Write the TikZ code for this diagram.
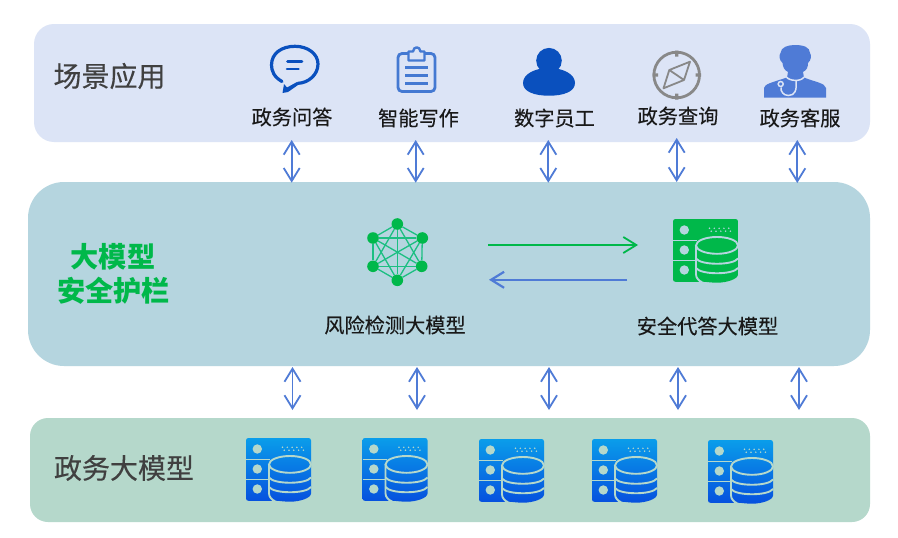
\documentclass[tikz,border=0pt]{standalone}
\usepackage{fontspec}
\setmainfont{Noto Sans CJK SC}
\newfontfamily\labfont[FakeBold=0.25]{Noto Sans CJK SC}
\usetikzlibrary{arrows.meta}
\definecolor{paneltop}{HTML}{DCE4F6}
\definecolor{panelmid}{HTML}{B5D5DF}
\definecolor{panelbot}{HTML}{B5D8CB}
\definecolor{arrowblue}{HTML}{4F7BD6}
\definecolor{guardgreen}{HTML}{00B84A}
\definecolor{netline}{HTML}{1CBF82}
\definecolor{deepblue}{HTML}{0A50BE}
\definecolor{clipblue}{HTML}{4479D2}
\definecolor{compassgray}{HTML}{888888}
\definecolor{srvtop}{HTML}{0A9DEA}
\definecolor{srvbot}{HTML}{0650DE}
\definecolor{darktext}{HTML}{404040}
\newcommand{\srvicon}[5]{%
\begin{scope}[shift={(#1,#2)}]
 \shade[top color=#3,bottom color=#4] (2.5,0) -- (62.5,0) .. controls (64,0) and (65,1) .. (65,2.5) -- (65,55.5)
   .. controls (65,60) and (54,63.7) .. (44,63.7) .. controls (36,63.7) and (29,62) .. (26,62.8) -- (2.5,62.8)
   .. controls (1,62.8) and (0,62) .. (0,60.5) -- (0,2.5) .. controls (0,1) and (1,0) .. (2.5,0) -- cycle;
 \draw[#5,line width=1.9pt] (0,21.5) -- (24,21.5) (0,41.5) -- (23,41.5);
 \fill[#5] (11.3,11) circle (4.7) (11.3,31) circle (4.7) (11.3,51) circle (4.7);
 \foreach \dx in {0,4.8,9.6,14.4,19.2}{\fill[#5] (36.5+\dx,9.3) circle (.85) (38.2+\dx,12.2) circle (.85);}
 \draw[#5,line width=1.9pt] (44,26.4) ellipse (21 and 8.4);
 \draw[#5,line width=1.9pt] (23,26.4) -- (23,55.4) .. controls (23,59) and (26,62) .. (29,63.2);
 \draw[#5,line width=1.9pt] (23,39.5) .. controls (28,46.5) and (60,46.5) .. (65,39.5);
 \draw[#5,line width=1.9pt] (23,49) .. controls (28,56) and (60,56) .. (65,49);
\end{scope}}
\tikzset{
 lab/.style={inner sep=0pt,font=\labfont\fontsize{20.2}{24}\selectfont,text=black!90},
 head/.style={inner sep=0pt,font=\labfont\fontsize{28}{32}\selectfont,text=darktext},
 guard/.style={inner sep=0pt,font=\bfseries\fontsize{28.2}{32}\selectfont,text=guardgreen},
 link/.style={arrowblue,line width=1.8pt,{Straight Barb[length=13pt,width=16pt]}-{Straight Barb[length=13pt,width=16pt]}},
 flowg/.style={guardgreen,line width=1.8pt,-{Straight Barb[length=13pt,width=16pt]}},
 flowb/.style={arrowblue,line width=2.2pt,-{Straight Barb[length=13pt,width=16pt]}},
 netnode/.style={circle,fill=guardgreen,minimum size=11.6pt,inner sep=0pt},
}
\begin{document}
\begin{tikzpicture}[x=1pt,y=-1pt]
\useasboundingbox (0,0) rectangle (898,538);
\fill[white] (0,0) rectangle (898,538);
% panels
\fill[paneltop,rounded corners=20pt] (34,24) rectangle (870,142);
\fill[panelmid,rounded corners=36pt] (28,182) rectangle (870,366);
\fill[panelbot,rounded corners=18pt] (30,418) rectangle (870,522);
% panel titles
\node[head] (tScene) at (109.5,76) {场景应用};
\node[guard] (tGuardA) at (113,257) {大模型};
\node[guard] (tGuardB) at (113.5,291) {安全护栏};
\node[head] (tGov) at (124,468) {政务大模型};
% top labels
\node[lab] (l1) at (292,117) {政务问答};
\node[lab] (l2) at (418.5,118) {智能写作};
\node[lab] (l3) at (554.5,118) {数字员工};
\node[lab] (l4) at (678,116) {政务查询};
\node[lab] (l5) at (800,118) {政务客服};
\node[lab] (l6) at (395,325) {风险检测大模型};
\node[lab] (l7) at (707.5,326) {安全代答大模型};
% network icon lines first
\node[netnode] (n1) at (397.3,224) {};
\node[netnode] (n2) at (422.3,238) {};
\node[netnode] (n3) at (421.7,266.3) {};
\node[netnode] (n4) at (397.3,280.3) {};
\node[netnode] (n5) at (373,266.3) {};
\node[netnode] (n6) at (373,238) {};
\foreach \a/\b in {n1/n2,n1/n3,n1/n4,n1/n5,n1/n6,n2/n3,n2/n4,n2/n5,n2/n6,n3/n4,n3/n5,n3/n6,n4/n5,n4/n6,n5/n6}
  \draw[netline,line width=1.3pt] (\a) -- (\b);
% chat icon
\draw[deepblue,line width=3.2pt,line cap=round] (282,81.5) .. controls (274,77) and (271.5,71) .. (271.5,65)
  .. controls (271.5,53) and (282,46.3) .. (295,46.3) .. controls (308,46.3) and (318,54) .. (318,64)
  .. controls (318,75) and (308,83) .. (298,83.3);
\fill[deepblue] (282.5,93) -- (284,84) -- (287,87.5) -- (297,82) -- (298,85) -- (288,92) -- cycle;
\draw[deepblue,line width=2.6pt,line cap=round] (287.5,61.7) -- (302,61.7) (287,69) -- (298.5,69);
% clipboard icon
\draw[clipblue,line width=2.8pt,rounded corners=4pt] (408,53.5) -- (398,53.5) -- (398,91.5) -- (435,91.5) -- (435,53.5) -- (425,53.5);
\draw[clipblue,line width=2.4pt,line join=round] (408.5,60.5) -- (408.5,51.5) -- (413,51.5) .. controls (413.5,46) and (420,46) .. (420.5,51.5) -- (424.5,51.5) -- (424.5,60.5) -- cycle;
\draw[clipblue,line width=2.6pt] (405,67.3) -- (428,67.3) (405,75.3) -- (428,75.3) (405,83.3) -- (428,83.3);
% person icon
\fill[deepblue] (549,60.7) circle (12.8);
\fill[deepblue] (523,83) .. controls (523,74) and (535,68) .. (549,68) .. controls (563,68) and (575,74) .. (575,83)
  .. controls (575,92) and (563,95.7) .. (549,95.7) .. controls (535,95.7) and (523,92) .. (523,83) -- cycle;
% compass icon
\draw[compassgray,line width=2.8pt] (676.7,75) circle (22.8);
\fill[compassgray] (675,50.5) rectangle (678.4,56.5) (675,93.5) rectangle (678.4,99.5)
  (652.5,73.3) rectangle (658,76.7) (695.5,73.3) rectangle (701,76.7);
\draw[compassgray,line width=1.8pt,line join=round] (690,61.7) -- (669.3,70) -- (663.5,88.3) -- (684,80) -- cycle (669.3,70) -- (684,80);
% doctor icon
\fill[arrowblue] (764,97.7) -- (764,88) .. controls (765,84) and (770,83) .. (787,77.5) -- (788,72)
  .. controls (784,70) and (783,67) .. (782.5,63) .. controls (779,60) and (779,55) .. (780.5,53)
  .. controls (781,47) and (788,45) .. (795,45) .. controls (803,45) and (810,47) .. (810,53)
  .. controls (811.5,55) and (811.5,60) .. (808,63) .. controls (808,67) and (807,70) .. (803,72)
  -- (804,77.5) .. controls (815,82) and (825,83) .. (826,88) -- (826,97.7) -- cycle;
\draw[paneltop,line width=1.5pt] (786.5,77) .. controls (789,81) and (801,82) .. (804,77);
\draw[paneltop,line width=1.5pt] (796,81) .. controls (797,90) and (795,95.5) .. (788.5,95.5) .. controls (783,95.5) and (780.5,91) .. (781,87.5);
\draw[paneltop,line width=1.5pt,fill=arrowblue] (780.7,84) circle (2.5);
% servers
\srvicon{673}{219}{guardgreen}{guardgreen}{panelmid}
\srvicon{246}{438}{srvtop}{srvbot}{panelbot}
\srvicon{362.5}{438}{srvtop}{srvbot}{panelbot}
\srvicon{479}{439}{srvtop}{srvbot}{panelbot}
\srvicon{592}{439}{srvtop}{srvbot}{panelbot}
\srvicon{708}{440}{srvtop}{srvbot}{panelbot}
% flows between guard models
\coordinate (fgA) at (488,245); \coordinate (fgB) at (638,245);
\coordinate (fbA) at (627,279.8); \coordinate (fbB) at (489,279.8);
\draw[flowg] (fgA) -- (fgB);
\draw[flowb] (fbA) -- (fbB);
% vertical links
\foreach \i/\x/\t/\b in {a/291.7/140/182.7,b/415.7/140/182.7,c/548.3/140/182.7,d/676.7/138/182,e/797.3/140/183,
  f/292.5/367/410,g/417/367/410,h/549/367/410,i/678/367/410,j/799/367/410}{
  \coordinate (u\i) at (\x,\t); \coordinate (v\i) at (\x,\b);
  \draw[link] (u\i) -- (v\i);
}
\end{tikzpicture}
\end{document}
